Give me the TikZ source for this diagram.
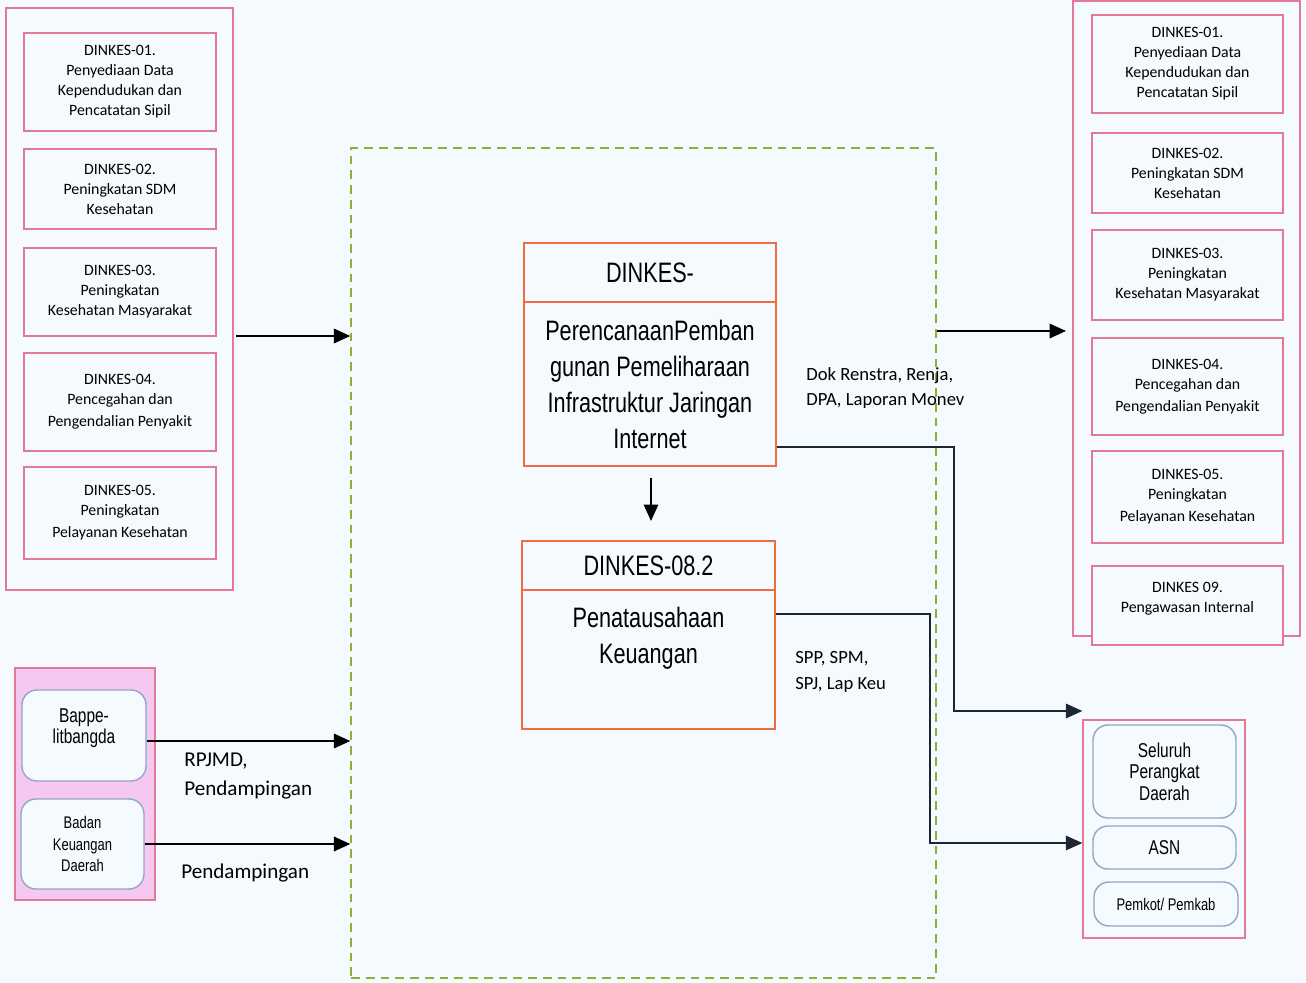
\documentclass[tikz,border=0pt]{standalone}
\usepackage{fontspec}
\setmainfont{Carlito}
\newfontfamily\narrowfont[FakeStretch=0.77]{Liberation Sans}
\usetikzlibrary{arrows.meta}

\definecolor{pagebg}{HTML}{F4FAFD}
\definecolor{rosered}{HTML}{E27A96}
\definecolor{boxorange}{HTML}{EE6E3E}
\definecolor{frameolive}{HTML}{8FAE3A}
\definecolor{roundblue}{HTML}{94A6C6}
\definecolor{lilac}{HTML}{F4C8EF}
\definecolor{inkdark}{HTML}{1E2533}

\begin{document}
\begin{tikzpicture}[x=0.2mm,y=-0.2mm,
grp/.style = {draw=rosered,line width=0.7pt,inner sep=0pt},
unit/.style = {draw=rosered,line width=0.6pt,fill=pagebg,inner sep=0pt,
        align=center,font=\fontsize{9}{11.4}\selectfont,minimum width=3.84cm},
proc/.style = {draw=boxorange,line width=1pt,fill=pagebg,inner sep=0pt,
        align=center,font=\narrowfont\fontsize{16}{20.5}\selectfont},
party/.style = {draw=roundblue,line width=0.8pt,fill=pagebg,rounded corners=3mm,
        inner sep=0pt,align=center,font=\narrowfont\fontsize{11.4}{12.3}\selectfont},
flow/.style = {line width=1.2pt,-{Triangle[length=3.3mm,width=2.9mm]}},
link/.style = {draw=inkdark,line width=0.9pt,-{Triangle[length=3.3mm,width=2.9mm]}},
note/.style = {align=left,inner sep=0pt}]

        % page
        \fill[pagebg] (0,0) rectangle (1306,983);

        % dashed frame
        \node[draw=frameolive,line width=0.8pt,dash pattern=on 5pt off 3.4pt,
              minimum width=11.7cm,minimum height=16.6cm] (Frame) at (643.5,563) {};

        % left group
        \node[grp,minimum width=4.54cm,minimum height=11.64cm] (Grp_L) at (119.5,299) {};
        \node[unit,minimum height=1.96cm] (L_01) at (120,82)
            {DINKES-01.\\Penyediaan Data\\Kependudukan dan\\Pencatatan Sipil};
        \node[unit,minimum height=1.6cm] (L_02) at (120,189)
            {DINKES-02.\\Peningkatan SDM\\Kesehatan};
        \node[unit,minimum height=1.76cm] (L_03) at (120,292)
            {DINKES-03.\\Peningkatan\\Kesehatan Masyarakat};
        \node[unit,minimum height=1.96cm] (L_04) at (120,402)
            {DINKES-04.\\Pencegahan dan\\[1pt]Pengendalian Penyakit};
        \node[unit,minimum height=1.84cm] (L_05) at (120,513)
            {DINKES-05.\\Peningkatan\\[1pt]Pelayanan Kesehatan};

        % right group
        \node[grp,minimum width=4.54cm,minimum height=12.7cm] (Grp_R) at (1186.5,318.5) {};
        \node[unit,minimum width=3.82cm,minimum height=1.96cm] (R_01) at (1187.5,64)
            {DINKES-01.\\Penyediaan Data\\Kependudukan dan\\Pencatatan Sipil};
        \node[unit,minimum width=3.82cm,minimum height=1.6cm] (R_02) at (1187.5,173)
            {DINKES-02.\\Peningkatan SDM\\Kesehatan};
        \node[unit,minimum width=3.82cm,minimum height=1.8cm] (R_03) at (1187.5,275)
            {DINKES-03.\\Peningkatan\\Kesehatan Masyarakat};
        \node[unit,minimum width=3.82cm,minimum height=1.94cm] (R_04) at (1187.5,386.5)
            {DINKES-04.\\Pencegahan dan\\[1pt]Pengendalian Penyakit};
        \node[unit,minimum width=3.82cm,minimum height=1.84cm] (R_05) at (1187.5,497)
            {DINKES-05.\\Peningkatan\\[1pt]Pelayanan Kesehatan};
        \node[unit,minimum width=3.82cm,minimum height=1.58cm] (R_09) at (1187.5,605.5)
            {DINKES 09.\\Pengawasan Internal\\[-1.8pt]};

        % process boxes
        \node[proc,minimum width=5.04cm,minimum height=1.18cm] (Plan_H) at (650,272.5) {DINKES-};
        \node[proc,minimum width=5.04cm,minimum height=3.28cm] (Plan_B) at (650,384)
            {PerencanaanPemban\\gunan Pemeliharaan\\Infrastruktur Jaringan\\Internet};
        \node[proc,minimum width=5.06cm,minimum height=0.98cm] (Fin_H) at (648.5,565.5) {DINKES-08.2};
        \node[proc,minimum width=5.06cm,minimum height=2.78cm] (Fin_B) at (648.5,659.5) {};
        \node[proc,draw=none,fill=none,anchor=north] (Fin_T) at (648.5,606)
            {Penatausahaan\\Keuangan};

        % sources
        \node[grp,fill=lilac,minimum width=2.8cm,minimum height=4.64cm] (Grp_S) at (85,784) {};
        \node[party,minimum width=2.48cm,minimum height=1.82cm] (Bap) at (84,735.5)
            {Bappe-\\litbangda\\[-1.5pt]};
        \node[party,minimum width=2.46cm,minimum height=1.8cm,
              font=\narrowfont\fontsize{9.6}{12}\selectfont] (Bkd) at (82.5,844)
            {Badan\\Keuangan\\Daerah};

        % targets
        \node[grp,fill=pagebg,minimum width=3.24cm,minimum height=4.36cm] (Tgt) at (1164,829) {};
        \node[party,minimum width=2.86cm,minimum height=1.86cm] (Spd) at (1164.5,771.5)
            {Seluruh\\Perangkat\\Daerah};
        \node[party,minimum width=2.86cm,minimum height=0.86cm] (Asn) at (1164.5,847.5) {ASN};
        \node[party,minimum width=2.88cm,minimum height=0.88cm,
              font=\narrowfont\fontsize{9.6}{12}\selectfont] (Pmk) at (1166,904) {Pemkot/ Pemkab};

        % connectors
        \coordinate (Out_L) at (236,336);
        \coordinate (In_R) at (1066,331);
        \coordinate (Step_A) at (651,478);
        \coordinate (Step_B) at (651,521);
        \draw[flow] (Out_L) -- (Out_L -| Frame.west);
        \draw[flow] (In_R -| Frame.east) -- (In_R);
        \draw[flow,line width=0.9pt] (Step_A) -- (Step_B);
        \draw[flow] (Bap.east |- 0,741) -- (Frame.west |- 0,741);
        \draw[flow] (Bkd.east) -- (Bkd.east -| Frame.west);
        \draw[link] (Plan_B.east |- 0,447) -| (954,711) -- (Tgt.west |- 0,711);
        \draw[link] (Fin_B.east |- 0,614) -| (930,843) -- (Tgt.west |- 0,843);

        % labels
        \node[note,font=\fontsize{10.6}{14.2}\selectfont,anchor=west] (Lbl_Doc) at (806,388)
            {Dok Renstra, Renja,\\DPA, Laporan Monev};
        \node[note,font=\fontsize{10.6}{14.8}\selectfont,anchor=west] (Lbl_Spp) at (795,672)
            {SPP, SPM,\\SPJ, Lap Keu};
        \node[note,font=\fontsize{12}{17}\selectfont,anchor=west] (Lbl_Rpj) at (184,776)
            {RPJMD,\\Pendampingan};
        \node[note,font=\fontsize{12}{17}\selectfont,anchor=west] (Lbl_Pdp) at (181,873)
            {Pendampingan};

\end{tikzpicture}
\end{document}
